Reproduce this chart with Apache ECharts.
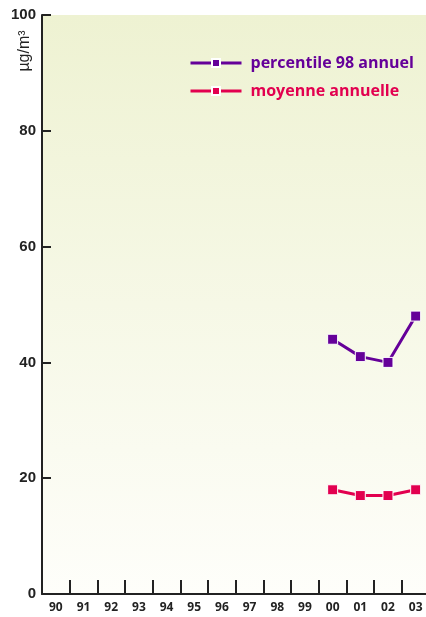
<!DOCTYPE html>
<html><head><meta charset="utf-8">
<script src="https://cdn.jsdelivr.net/npm/echarts@6/dist/echarts.min.js"></script>
<style>html,body{margin:0;padding:0;background:#fff}#c{width:426px;height:617px}</style>
</head><body><div id="c"></div>
<script>
const categories = ['90','91','92','93','94','95','96','97','98','99','00','01','02','03'];
const percentile98 = [null,null,null,null,null,null,null,null,null,null,44,41,40,48];
const moyenne = [null,null,null,null,null,null,null,null,null,null,18,17,17,18];
const yTicks = [0,20,40,60,80,100];
const seriesNames = ['percentile 98 annuel','moyenne annuelle'];
const unitLabel = 'µg/m³';
const purple = '#650099', red = '#e2004f';

const chart = echarts.init(document.getElementById('c'));
chart.setOption({
  animation:false,
  backgroundColor:'#ffffff',
  grid:{left:42, top:15, width:387.5, height:579, show:true, borderWidth:0,
    outerBoundsMode:'none', containLabel:false,
    backgroundColor:{type:'linear',x:0,y:0,x2:0,y2:1,colorStops:[{offset:0,color:'#eef2d2'},{offset:1,color:'#fefefa'}]}},
  graphic:[{type:'text', x:25, y:51, rotation:Math.PI/2, z:10,
    style:{text:unitLabel, fill:'#222', font:'16px "Liberation Sans"', align:'center', verticalAlign:'middle'}}],
  legend:{
    left:189, top:55, padding:0, orient:'vertical', itemGap:12, itemWidth:51, itemHeight:10,
    data:[
      {name:seriesNames[0], textStyle:{color:purple}},
      {name:seriesNames[1], textStyle:{color:red}}
    ],
    lineStyle:{width:3},
    textStyle:{fontFamily:'Open Sans', fontWeight:'bold', fontSize:16, padding:[0,0,0,4]}
  },
  xAxis:{type:'category', data:categories, boundaryGap:true,
    axisLine:{lineStyle:{color:'#222', width:2}},
    axisTick:{show:true, inside:true, length:14, interval:0, lineStyle:{color:'#222', width:2}},
    axisLabel:{color:'#222', fontFamily:'Open Sans', fontWeight:'bold', fontSize:12, margin:8, interval:0, hideOverlap:false}
  },
  yAxis:{type:'value', min:0, max:100, interval:20,
    axisLine:{show:true, lineStyle:{color:'#222', width:2}},
    axisTick:{show:true, inside:true, length:9, lineStyle:{color:'#222', width:2}},
    axisLabel:{color:'#222', fontFamily:'Liberation Sans', fontWeight:'bold', fontSize:15, margin:6,
      formatter:v=> yTicks.includes(v)? String(v):''},
    splitLine:{show:false}
  },
  series:[
    {name:seriesNames[0], type:'line', data:percentile98, color:purple,
      symbol:'rect', symbolSize:10, lineStyle:{width:3, color:purple},
      itemStyle:{color:purple, borderColor:'#fff', borderWidth:1}},
    {name:seriesNames[1], type:'line', data:moyenne, color:red,
      symbol:'rect', symbolSize:10, lineStyle:{width:3, color:red},
      itemStyle:{color:red, borderColor:'#fff', borderWidth:1}}
  ]
});
</script></body></html>
